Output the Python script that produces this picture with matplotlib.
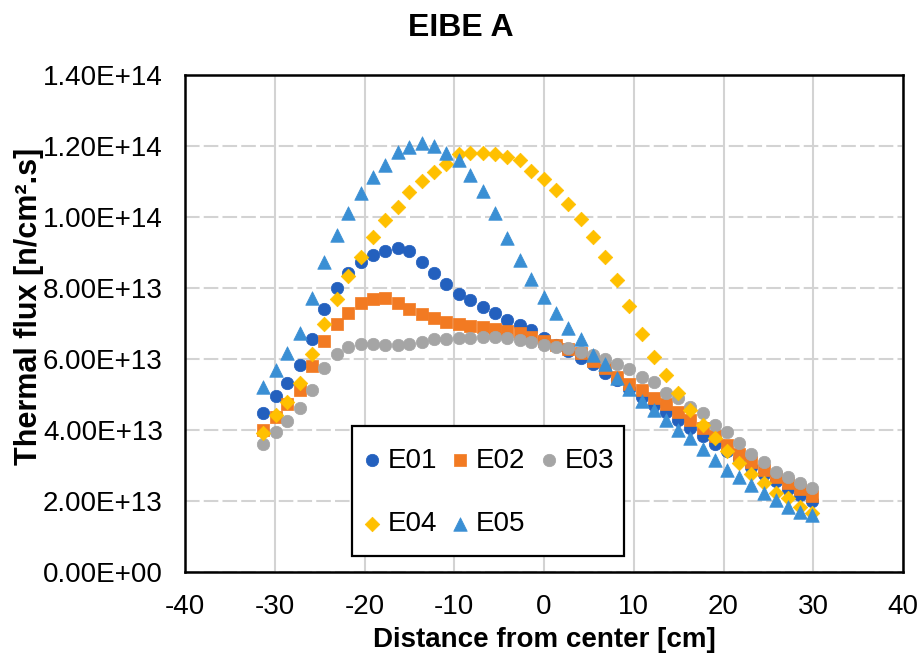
import matplotlib.pyplot as plt
from matplotlib.patches import Rectangle
from matplotlib.ticker import FuncFormatter, MultipleLocator

plt.rcParams['font.family'] = ['Liberation Sans', 'DejaVu Sans']
plt.rcParams['axes.unicode_minus'] = False

# positions along the fuel element [cm]
dist = [-31.3, -29.9, -28.6, -27.2, -25.9, -24.5, -23.1, -21.8, -20.4, -19.1,
        -17.7, -16.3, -15.0, -13.6, -12.3, -10.9, -9.5, -8.2, -6.8, -5.5,
        -4.1, -2.7, -1.4, 0.0, 1.3, 2.7, 4.1, 5.4, 6.8, 8.1,
        9.5, 10.9, 12.2, 13.6, 14.9, 16.3, 17.7, 19.0, 20.4, 21.7,
        23.1, 24.5, 25.8, 27.2, 28.5, 29.9]

# thermal flux, units of 1E+13 n/cm2.s
e01 = [4.49, 4.96, 5.33, 5.83, 6.55, 7.40, 7.99, 8.43, 8.73, 8.93,
       9.04, 9.12, 9.05, 8.74, 8.43, 8.11, 7.83, 7.66, 7.47, 7.30,
       7.11, 6.97, 6.81, 6.58, 6.40, 6.22, 6.03, 5.85, 5.62, 5.40,
       5.15, 4.93, 4.70, 4.50, 4.28, 4.05, 3.83, 3.60, 3.40, 3.18,
       2.96, 2.75, 2.55, 2.35, 2.17, 2.00]
e02 = [4.00, 4.37, 4.73, 5.13, 5.80, 6.52, 7.00, 7.29, 7.59, 7.68,
       7.71, 7.59, 7.40, 7.27, 7.15, 7.05, 6.99, 6.93, 6.89, 6.85,
       6.80, 6.73, 6.62, 6.50, 6.40, 6.28, 6.16, 5.95, 5.74, 5.50,
       5.31, 5.13, 4.89, 4.73, 4.52, 4.28, 4.05, 3.83, 3.58, 3.32,
       3.11, 2.87, 2.68, 2.50, 2.33, 2.14]
e03 = [3.61, 3.95, 4.26, 4.61, 5.13, 5.74, 6.14, 6.33, 6.42, 6.42,
       6.39, 6.39, 6.42, 6.49, 6.55, 6.55, 6.58, 6.58, 6.61, 6.61,
       6.58, 6.54, 6.49, 6.39, 6.35, 6.30, 6.20, 6.11, 5.99, 5.86,
       5.71, 5.50, 5.36, 5.05, 4.89, 4.64, 4.47, 4.14, 3.95, 3.63,
       3.32, 3.11, 2.83, 2.68, 2.50, 2.36]
e04 = [3.91, 4.42, 4.80, 5.33, 6.14, 7.00, 7.68, 8.33, 8.87, 9.45,
       9.92, 10.29, 10.69, 11.00, 11.28, 11.48, 11.77, 11.79, 11.79, 11.77,
       11.70, 11.60, 11.30, 11.06, 10.76, 10.37, 9.94, 9.43, 8.88, 8.23,
       7.49, 6.71, 6.07, 5.55, 5.03, 4.56, 4.14, 3.77, 3.42, 3.06,
       2.76, 2.50, 2.23, 2.08, 1.84, 1.67]
e05 = [5.20, 5.70, 6.17, 6.72, 7.72, 8.74, 9.49, 10.12, 10.67, 11.14,
       11.46, 11.82, 11.98, 12.08, 12.00, 11.79, 11.60, 11.18, 10.73, 10.12,
       9.42, 8.78, 8.24, 7.76, 7.30, 6.86, 6.56, 6.12, 5.85, 5.46,
       5.15, 4.83, 4.56, 4.28, 4.00, 3.77, 3.46, 3.15, 2.87, 2.68,
       2.45, 2.22, 2.03, 1.84, 1.70, 1.61]

names = ["E01", "E02", "E03", "E04", "E05"]
series = [e01, e02, e03, e04, e05]
colors = ["#2360BE", "#F27A22", "#A5A5A5", "#FFC000", "#3A8FD4"]
markers = ["o", "s", "o", "D", "^"]
sizes = [80, 80, 80, 55, 95]

fig = plt.figure(figsize=(9.21, 6.56), dpi=100)
ax = fig.add_axes([0.2009, 0.128, 0.7796, 0.7577])

handles = {}
for k, (name, vals) in enumerate(zip(names, series)):
    h = ax.scatter(dist, [v * 1e13 for v in vals], s=sizes[k], marker=markers[k],
                   color=colors[k], edgecolors=colors[k], linewidths=0.5,
                   label=name, zorder=3 + k)
    handles[name] = h

ax.set_xlim(-40, 40)
ax.set_ylim(0, 1.4e14)
ax.xaxis.set_major_locator(MultipleLocator(10))
ax.yaxis.set_major_locator(MultipleLocator(2e13))
ax.yaxis.set_major_formatter(FuncFormatter(lambda v, p: f"{v:.2E}"))

ax.grid(axis="x", color="#D3D3D3", linewidth=1.5, linestyle="-")
ax.grid(axis="y", color="#D3D3D3", linewidth=1.5, linestyle=(0, (7, 2)))
ax.set_axisbelow(True)
for sp in ax.spines.values():
    sp.set_linewidth(1.8)
    sp.set_color("black")
ax.tick_params(length=0, labelsize=20)
ax.tick_params(axis="x", pad=16)
ax.tick_params(axis="y", pad=16)

ax.set_xlabel("Distance from center [cm]", fontsize=20, fontweight="bold", labelpad=5)
ax.set_ylabel("Thermal flux [n/cm².s]", fontsize=22, fontweight="bold")
ax.yaxis.set_label_coords(-0.197, 0.535)
fig.text(0.5, 0.957, "EIBE A", ha="center", va="center", fontsize=23, fontweight="bold")

# legend box, drawn separately so the entries can sit close to its edge
ax.add_patch(Rectangle((0.2326, 0.032), 0.3788, 0.2618, transform=ax.transAxes,
                       facecolor="white", edgecolor="black", linewidth=1.6,
                       zorder=9))

# row-major order: E01 E02 E03 / E04 E05
order = ["E01", "E04", "E02", "E05", "E03"]
leg = ax.legend([handles[n] for n in order], order, ncol=3, loc="lower left",
                bbox_to_anchor=(0.2194, 0.026, 0.4088, 0.2618), mode="expand",
                borderaxespad=0, fontsize=20, frameon=False, labelspacing=1.34,
                handletextpad=0.32, columnspacing=0.9, markerscale=1.0,
                borderpad=0.8, handlelength=0.5)
leg.set_zorder(10)

fig.savefig("out.png", dpi=100)
